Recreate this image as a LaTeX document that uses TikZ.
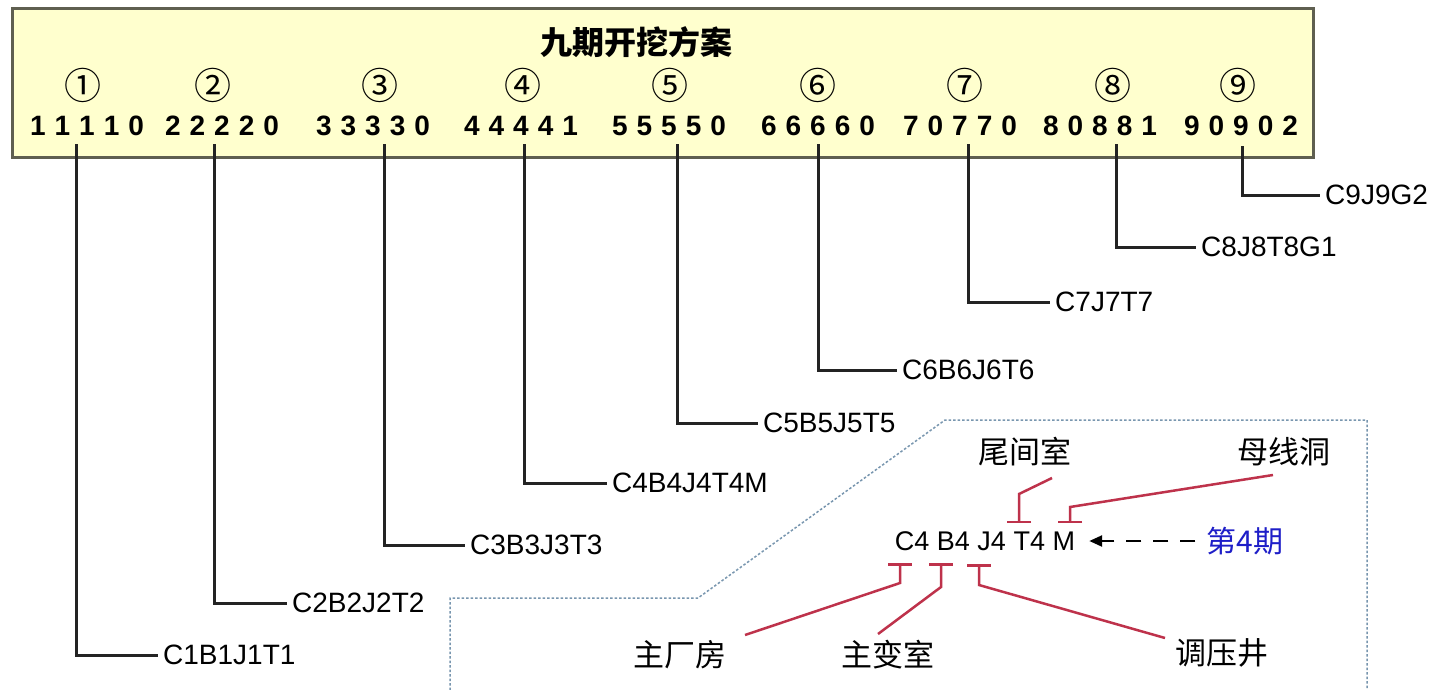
\documentclass[tikz,border=0pt]{standalone}
\usepackage{fontspec}
\setmainfont{Liberation Sans}
\newfontfamily\cjk{Noto Sans CJK SC}
\usetikzlibrary{arrows.meta}
\definecolor{boxfill}{RGB}{255,255,206}
\definecolor{boxline}{RGB}{95,95,80}
\definecolor{leader}{RGB}{35,35,35}
\definecolor{redline}{RGB}{190,50,75}
\definecolor{calloutline}{RGB}{120,150,175}
\definecolor{phaseblue}{RGB}{30,30,200}
\makeatletter
\newcommand\spd[1]{\@tfor\spdtok:=#1\do{\spdtok\kern9pt}\unkern}
\makeatother
\tikzset{
  digits/.style={font=\fontsize{28}{30}\selectfont\bfseries, inner sep=0pt},
  circnum/.style={font=\cjk\fontsize{37}{40}\selectfont, inner sep=0pt},
  titletext/.style={font=\cjk\bfseries\fontsize{32}{34}\selectfont, inner sep=0pt},
  codelabel/.style={font=\fontsize{28}{30}\selectfont, anchor=west, inner sep=5pt},
  leaderline/.style={draw=leader, line width=3pt},
  cnlabel/.style={font=\cjk\fontsize{31}{33}\selectfont, inner sep=2pt},
  redconn/.style={draw=redline, line width=2.5pt, -{Bar[width=24pt,line width=2.5pt]}},
  callout/.style={draw=calloutline, line width=1.5pt, dash pattern=on 2.5pt off 2pt},
  phasearrow/.style={draw=black, line width=2.5pt, dash pattern=on 15pt off 12pt, -{Triangle[length=13pt,width=11pt]}},
}
\begin{document}
\begin{tikzpicture}[x=1pt,y=-1pt]
\useasboundingbox (0,0) rectangle (1431,690);
\fill[white] (0,0) rectangle (1431,690);

% top box
\draw[fill=boxfill, draw=boxline, line width=3pt] (12,9) rectangle (1313,157);
\node[titletext] (title) at (636,42) {九期开挖方案};

% circled numbers
\node[circnum] (c1) at (83,85) {①};
\node[circnum] (c2) at (213,85) {②};
\node[circnum] (c3) at (380,85) {③};
\node[circnum] (c4) at (523,85) {④};
\node[circnum] (c5) at (670,85) {⑤};
\node[circnum] (c6) at (818,85) {⑥};
\node[circnum] (c7) at (965,85) {⑦};
\node[circnum] (c8) at (1113,85) {⑧};
\node[circnum] (c9) at (1238,85) {⑨};

% digit groups
\node[digits] (d1) at (87,126) {\spd{11110}};
\node[digits] (d2) at (222,126) {\spd{22220}};
\node[digits] (d3) at (373,126) {\spd{33330}};
\node[digits] (d4) at (521,126) {\spd{44441}};
\node[digits] (d5) at (669,126) {\spd{55550}};
\node[digits] (d6) at (818,126) {\spd{66660}};
\node[digits] (d7) at (960,126) {\spd{70770}};
\node[digits] (d8) at (1100,126) {\spd{80881}};
\node[digits] (d9) at (1241,126) {\spd{90902}};

% leader tops
\coordinate (t1) at (76,144);
\coordinate (t2) at (214,144);
\coordinate (t3) at (384,144);
\coordinate (t4) at (524,144);
\coordinate (t5) at (677,144);
\coordinate (t6) at (818,144);
\coordinate (t7) at (968,144);
\coordinate (t8) at (1116,144);
\coordinate (t9) at (1242,146);

% code labels
\node[codelabel] (l1) at (158,655) {C1B1J1T1};
\node[codelabel] (l2) at (287,603) {C2B2J2T2};
\node[codelabel] (l3) at (465,545) {C3B3J3T3};
\node[codelabel] (l4) at (607,483) {C4B4J4T4M};
\node[codelabel] (l5) at (758,423) {C5B5J5T5};
\node[codelabel] (l6) at (897,370) {C6B6J6T6};
\node[codelabel] (l7) at (1050,302) {C7J7T7};
\node[codelabel] (l8) at (1196,247) {C8J8T8G1};
\node[codelabel] (l9) at (1320,195) {C9J9G2};

\draw[leaderline] (t1) |- (l1.west);
\draw[leaderline] (t2) |- (l2.west);
\draw[leaderline] (t3) |- (l3.west);
\draw[leaderline] (t4) |- (l4.west);
\draw[leaderline] (t5) |- (l5.west);
\draw[leaderline] (t6) |- (l6.west);
\draw[leaderline] (t7) |- (l7.west);
\draw[leaderline] (t8) |- (l8.west);
\draw[leaderline] (t9) |- (l9.west);

% callout frame
\draw[callout] (450,690) -- (450,598) -- (698,598) -- (945,420) -- (1367,420) -- (1367,690);

% detail of phase 4
\node[font=\fontsize{27}{30}\selectfont, inner sep=2pt] (code) at (985,541) {C4 B4 J4 T4 M};
\node[font=\cjk\fontsize{30}{32}\selectfont, text=phaseblue, inner sep=2pt] (p4) at (1245,541) {第4期};
\draw[phasearrow, shorten <=9pt, shorten >=12pt] (p4.west) -- (code.east);

\node[cnlabel] (wjs) at (1025,452) {尾间室};
\node[cnlabel] (mxd) at (1284,452) {母线洞};
\node[cnlabel] (zcf) at (680,655) {主厂房};
\node[cnlabel] (zbs) at (888,655) {主变室};
\node[cnlabel] (tyj) at (1222,653) {调压井};

\coordinate (wjsend) at (1052,478);
\coordinate (wjsbar) at (1019,523);
\coordinate (mxdend) at (1273,475);
\coordinate (mxdbar) at (1070,523);
\coordinate (zcfend) at (745,635);
\coordinate (zcfbar) at (900,563);
\coordinate (zbsend) at (878,634);
\coordinate (zbsbar) at (941,563);
\coordinate (tyjend) at (1165,638);
\coordinate (tyjbar) at (979,564);

\draw[redconn] (wjsend) -- (1019,494) -- (wjsbar);
\draw[redconn] (mxdend) -- (1070,507) -- (mxdbar);
\draw[redconn] (zcfend) -- (900,583) -- (zcfbar);
\draw[redconn] (zbsend) -- (941,587) -- (zbsbar);
\draw[redconn] (tyjend) -- (979,585) -- (tyjbar);
\end{tikzpicture}
\end{document}
